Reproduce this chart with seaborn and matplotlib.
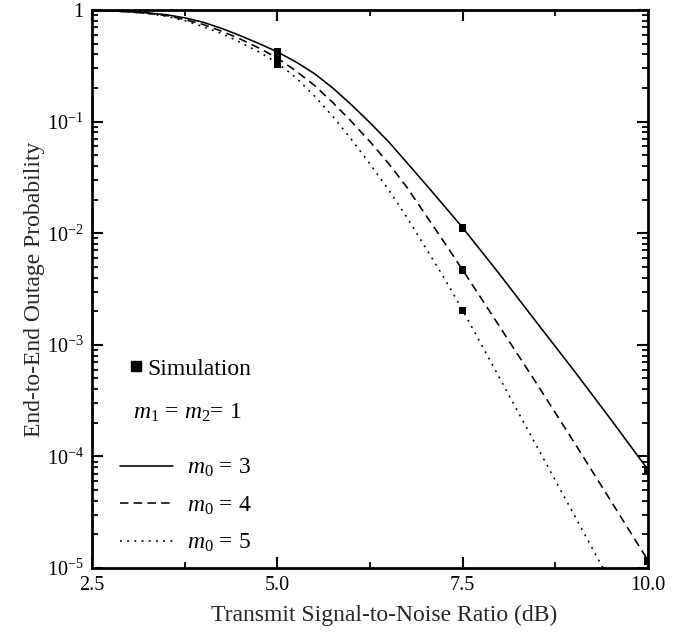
import matplotlib
matplotlib.use("Agg")
import matplotlib.pyplot as plt
import numpy as np
import pandas as pd
import seaborn as sns
from matplotlib.lines import Line2D
from matplotlib.ticker import FixedLocator, LogLocator, NullFormatter, FixedFormatter

# ---- data ----
snr = [2.5, 2.75, 3.0, 3.25, 3.5, 3.75, 4.0, 4.25, 4.5, 4.75, 5.0, 5.25, 5.5, 5.75,
       6.0, 6.25, 6.5, 6.75, 7.0, 7.25, 7.5, 8.0, 8.5, 9.0, 9.5, 10.0]
p_m0_3 = [0.9908, 0.9817, 0.9661, 0.9419, 0.9078, 0.8511, 0.7762, 0.6839, 0.5888, 0.5012,
          0.4217, 0.3428, 0.2692, 0.1995, 0.1413, 0.0977, 0.0661, 0.0427, 0.0275, 0.0176,
          0.0112, 0.00427, 0.00158, 5.89e-4, 2.14e-4, 7.59e-5]
p_m0_4 = [0.9908, 0.9817, 0.9638, 0.9333, 0.8913, 0.8222, 0.7413, 0.6457, 0.5495, 0.4571,
          0.3715, 0.2851, 0.2113, 0.1479, 0.1000, 0.0661, 0.0422, 0.0257, 0.0146, 0.00832,
          0.00468, 0.00145, 4.47e-4, 1.35e-4, 3.98e-5, 1.17e-5]
p_m0_5 = [0.9908, 0.9817, 0.9616, 0.9290, 0.8790, 0.8035, 0.7079, 0.6166, 0.5129, 0.4217,
          0.3350, 0.2483, 0.1698, 0.1109, 0.0692, 0.0417, 0.0245, 0.0138, 0.00741, 0.00398,
          0.00204, 5.01e-4, 1.23e-4, 3.02e-5, 7.41e-6, 1.8e-6]
series_labels = [r"$m_0$ = 3", r"$m_0$ = 4", r"$m_0$ = 5"]

sim_snr = [5.0, 5.0, 5.0, 7.5, 7.5, 7.5, 10.0, 10.0]
sim_p = [0.42, 0.37, 0.33, 0.0112, 0.0047, 0.00203, 7.6e-5, 1.15e-5]

xtick_vals = [2.5, 5.0, 7.5, 10.0]
xtick_labels = ["2.5", "5.0", "7.5", "10.0"]
xminor_vals = [3.75, 6.25, 8.75]
ytick_vals = [1e-5, 1e-4, 1e-3, 1e-2, 1e-1, 1]
ytick_labels = [r"$10^{-5}$", r"$10^{-4}$", r"$10^{-3}$", r"$10^{-2}$", r"$10^{-1}$", "1"]

# ---- style ----
sns.set_theme(style="ticks")
plt.rcParams.update({
    "font.family": ["Liberation Serif", "DejaVu Serif"],
    "mathtext.fontset": "custom",
    "mathtext.rm": "Liberation Serif",
    "mathtext.it": "Liberation Serif:italic",
    "mathtext.bf": "Liberation Serif:bold",
    "axes.edgecolor": "black",
    "text.color": "black",
    "xtick.color": "black",
    "ytick.color": "black",
})

df = pd.DataFrame({
    "snr": snr * 3,
    "p": p_m0_3 + p_m0_4 + p_m0_5,
    "curve": [series_labels[0]] * len(snr) + [series_labels[1]] * len(snr) + [series_labels[2]] * len(snr),
})

fig = plt.figure(figsize=(6.95, 6.37), dpi=100)
ax = fig.add_axes([92 / 695, 69 / 637, 556 / 695, 558 / 637])

dash_map = {series_labels[0]: "", series_labels[1]: (5.3, 3.3), series_labels[2]: (1.2, 3.3)}
sns.lineplot(data=df, x="snr", y="p", style="curve", dashes=dash_map, color="black",
             linewidth=1.15, legend=False, ax=ax, sort=False)

sns.scatterplot(x=sim_snr, y=sim_p, marker="s", s=30, color="black", edgecolor="none",
                ax=ax, zorder=5, legend=False)

ax.set_yscale("log")
ax.set_xlim(2.5, 10.0)
ax.set_ylim(1e-5, 1)

ax.xaxis.set_major_locator(FixedLocator(xtick_vals))
ax.xaxis.set_major_formatter(FixedFormatter(xtick_labels))
ax.xaxis.set_minor_locator(FixedLocator(xminor_vals))
ax.yaxis.set_major_locator(FixedLocator(ytick_vals))
ax.yaxis.set_major_formatter(FixedFormatter(ytick_labels))
ax.yaxis.set_minor_locator(LogLocator(base=10, subs=np.arange(2, 10)))
ax.yaxis.set_minor_formatter(NullFormatter())

ax.tick_params(which="both", direction="in", top=True, right=True, labelsize=14.5)
ax.tick_params(which="major", length=8, width=1.5, pad=6)
ax.tick_params(which="minor", length=4.5, width=1.3)
for sp in ax.spines.values():
    sp.set_linewidth(2.0)
    sp.set_color("black")

ax.set_xlabel("Transmit Signal-to-Noise Ratio (dB)", fontsize=17)
ax.set_ylabel("End-to-End Outage Probability", fontsize=17)
ax.xaxis.set_label_coords(0.525, -0.066)
ax.yaxis.set_label_coords(-0.085, 0.5)

# legends
sim_handle = Line2D([], [], marker="s", linestyle="none", color="black", markersize=7.5)
leg1 = ax.legend([sim_handle], ["Simulation"], loc="center left", bbox_to_anchor=(0.068, 0.357),
                 frameon=False, fontsize=17, handlelength=0.5, handletextpad=0.25,
                 borderpad=0, borderaxespad=0)
ax.add_artist(leg1)

ax.text(0.074, 0.278, r"$m_1$ = $m_2$= 1", transform=ax.transAxes, fontsize=17,
        ha="left", va="center")

line_handles = ax.lines[:3]
leg2 = ax.legend(line_handles, series_labels, loc="center left", bbox_to_anchor=(0.05, 0.112),
                 frameon=False, fontsize=17, handlelength=2.25, handletextpad=0.6,
                 labelspacing=0.64, borderpad=0, borderaxespad=0)

fig.savefig("out.png", dpi=100)
